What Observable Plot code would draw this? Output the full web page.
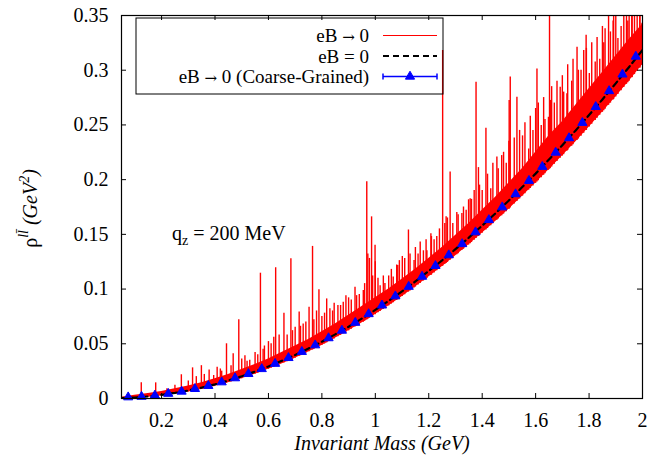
<!DOCTYPE html>
<html>
<head>
<meta charset="utf-8">
<script src="https://cdn.jsdelivr.net/npm/d3@7"></script>
<script src="https://cdn.jsdelivr.net/npm/@observablehq/plot@0.6"></script>
<style>
  html, body { margin: 0; padding: 0; background: #fff; }
</style>
</head>
<body>
<div id="chart"></div>
<script>
// ---- data ----
const massGrid = [0.05,0.10,0.15,0.20,0.25,0.30,0.35,0.40,0.45,0.50,0.55,0.60,0.65,0.70,0.75,0.80,0.85,0.90,0.95,1.00,
                  1.05,1.10,1.15,1.20,1.25,1.30,1.35,1.40,1.45,1.50,1.55,1.60,1.65,1.70,1.75,1.80,1.85,1.90,1.95,2.00];
// eB = 0 (dashed black)
const rhoB0 = [0.0003,0.0009,0.0019,0.0033,0.0051,0.0073,0.0099,0.0129,0.0164,0.0203,0.0246,0.0293,0.0344,0.0398,0.0457,0.0519,0.0586,0.0656,0.0731,0.0810,
               0.0892,0.0979,0.1070,0.1165,0.1262,0.1365,0.1470,0.1580,0.1693,0.1810,0.1932,0.2055,0.2184,0.2315,0.2450,0.2590,0.2733,0.2880,0.3030,0.3185];
// eB -> 0 : dense red band (lower / upper envelope)
const redLow = [0.0000,0.0003,0.0011,0.0023,0.0039,0.0059,0.0083,0.0111,0.0144,0.0181,0.0222,0.0267,0.0316,0.0368,0.0425,0.0485,0.0550,0.0618,0.0690,0.0767,
                0.0846,0.0930,0.1018,0.1110,0.1204,0.1303,0.1404,0.1510,0.1618,0.1730,0.1847,0.1966,0.2090,0.2215,0.2344,0.2478,0.2615,0.2755,0.2900,0.3050];
const redHigh = [0.0012,0.0030,0.0045,0.0065,0.0090,0.0115,0.0145,0.0180,0.0220,0.0265,0.0310,0.0360,0.0420,0.0480,0.0540,0.0610,0.0680,0.0760,0.0840,0.0920,
                 0.1000,0.1090,0.1180,0.1280,0.1380,0.1490,0.1600,0.1720,0.1840,0.1970,0.2100,0.2250,0.2400,0.2530,0.2680,0.2830,0.2980,0.3130,0.3280,0.3420];
// eB -> 0 : individual spikes (mass, peak value)
const spikeMass = [0.124,0.178,0.22,0.25,0.274,0.30,0.316,0.349,0.36,0.378,0.395,0.408,0.425,0.443,0.468,0.489,0.50,0.512,0.53,0.55,
                   0.570,0.585,0.60,0.627,0.64,0.658,0.684,0.70,0.715,0.73,0.752,0.765,0.789,0.80,0.818,0.83,0.846,0.87,0.890,0.91,
                   0.924,0.94,0.955,0.968,0.972,0.978,0.986,0.999,1.018,1.036,1.05,1.067,1.084,1.101,1.124,1.145,1.168,1.18,1.193,1.208,
                   1.23,1.252,1.265,1.280,1.29,1.305,1.324,1.349,1.355,1.377,1.386,1.40,1.414,1.432,1.455,1.473,1.49,1.501,1.505,1.530,
                   1.551,1.574,1.59,1.605,1.621,1.635,1.648,1.652,1.655,1.67,1.692,1.705,1.717,1.735,1.755,1.77,1.789,1.801,1.823,1.84,
                   1.855,1.873,1.88,1.892,1.908,1.92,1.930,1.945,1.961,1.97,1.980,1.99,1.998,
                   0.33,0.42,0.46,0.52,0.56,0.58,0.61,0.62,0.67,0.69,0.72,0.74,0.77,0.78,0.81,0.84,0.86,0.88,0.90,0.93,
                   0.96,0.99,1.00,1.01,1.03,1.06,1.08,1.09,1.11,1.13,1.15,1.16,1.19,1.21,1.22,1.24,1.26,1.27,1.31,1.33,
                   1.34,1.36,1.37,1.39,1.42,1.44,1.46,1.48,1.50,1.52,1.54,1.56,1.58,1.60,1.61,1.63,1.66,1.68,1.70,1.72,
                   1.74,1.76,1.78,1.79,1.81,1.83,1.85,1.86,1.89,1.90,1.94,1.95,1.96,1.99];
const spikeTop = [0.0143,0.0143,0.009,0.012,0.0217,0.016,0.028,0.030,0.022,0.026,0.021,0.0286,0.025,0.050,0.041,0.072,0.036,0.039,0.035,0.042,
                  0.1145,0.048,0.052,0.1195,0.058,0.078,0.1277,0.065,0.079,0.068,0.0835,0.139,0.0994,0.075,0.091,0.082,0.087,0.085,0.094,0.090,
                  0.1017,0.095,0.0987,0.198,0.132,0.128,0.166,0.140,0.103,0.105,0.112,0.111,0.1216,0.1298,0.154,0.126,0.143,0.135,0.135,0.1505,
                  0.148,0.318,0.166,0.207,0.160,0.170,0.169,0.1816,0.1825,0.289,0.211,0.190,0.247,0.1917,0.2206,0.222,0.215,0.2724,0.2937,0.2754,
                  0.240,0.228,0.245,0.301,0.2495,0.255,0.257,0.37,0.2724,0.270,0.2845,0.280,0.2785,0.290,0.321,0.300,0.332,0.297,0.3075,0.310,
                  0.325,0.37,0.335,0.37,0.329,0.340,0.37,0.345,0.37,0.350,0.37,0.360,0.343,
                  0.020,0.027,0.030,0.034,0.040,0.045,0.050,0.056,0.058,0.062,0.066,0.070,0.072,0.080,0.078,0.080,0.085,0.088,0.092,0.094,
                  0.105,0.112,0.125,0.110,0.112,0.118,0.122,0.126,0.128,0.132,0.138,0.132,0.145,0.148,0.145,0.155,0.160,0.165,0.168,0.175,
                  0.172,0.182,0.190,0.195,0.205,0.215,0.210,0.225,0.235,0.238,0.245,0.252,0.258,0.265,0.270,0.275,0.285,0.290,0.295,0.305,
                  0.310,0.300,0.318,0.320,0.325,0.330,0.340,0.338,0.345,0.350,0.37,0.360,0.355,0.37];
// eB -> 0 (coarse-grained), blue triangles
const coarseMass = [0.075,0.125,0.175,0.225,0.275,0.325,0.375,0.425,0.475,0.525,0.575,0.625,0.675,0.725,0.775,0.825,0.875,0.925,0.975,
                    1.025,1.075,1.125,1.175,1.225,1.275,1.325,1.375,1.425,1.475,1.525,1.575,1.625,1.675,1.725,1.775,1.825,1.875,1.925,1.975];
const coarseRho = [0.0012,0.0017,0.0028,0.0044,0.0064,0.0088,0.0116,0.0149,0.0186,0.0225,0.0270,0.0318,0.0371,0.0427,0.0487,0.0552,0.0621,0.0693,0.0772,
                   0.0851,0.0935,0.1022,0.1114,0.1212,0.1310,0.1412,0.1520,0.1632,0.1748,0.1868,0.1990,0.2118,0.2248,0.2380,0.2520,0.2665,0.2810,0.2962,0.3125];
const xTicks = [0.2,0.4,0.6,0.8,1,1.2,1.4,1.6,1.8,2];
const yTicks = [0,0.05,0.1,0.15,0.2,0.25,0.3,0.35];
const legendParts = [["eB ", "0"], ["eB = 0", null], ["eB ", "0 (Coarse-Grained)"]];

// ---- tables built from the arrays ----
const curve = massGrid.map((m, i) => ({m, v: rhoB0[i]}));
const band = massGrid.map((m, i) => ({m, lo: redLow[i], hi: redHigh[i]}));
const lowAt = d3.scaleLinear().domain(massGrid).range(redLow);
const spikes = spikeMass.map((m, i) => ({m, base: lowAt(m), top: spikeTop[i]})).sort((a, b) => a.m - b.m);
const coarse = coarseMass.map((m, i) => ({m, v: coarseRho[i]}));

const W = 649, H = 464, mL = 121, mR = 7, mT = 15, mB = 66;
const fw = W - mL - mR, fh = H - mT - mB, tk = 5;
const FONT = "'Liberation Serif', 'Times New Roman', serif";

const svg = Plot.plot({
  width: W, height: H,
  marginLeft: mL, marginRight: mR, marginTop: mT, marginBottom: mB,
  style: {fontFamily: FONT, fontSize: "20px", background: "white", color: "black"},
  x: {domain: [0.05, 2]},
  y: {domain: [0, 0.35]},
  marks: [
    Plot.areaY(band, {x: "m", y1: "lo", y2: "hi", fill: "#ff0000", clip: true}),
    Plot.ruleX(spikes, {x: "m", y1: "base", y2: "top", stroke: "#ff0000", strokeWidth: 1.4, clip: true}),
    Plot.line(curve, {x: "m", y: "v", stroke: "black", strokeWidth: 2.2, strokeDasharray: "6,4", clip: true}),
    Plot.dot(coarse, {x: "m", y: "v", symbol: "triangle", r: 3.4, fill: "#0000ff", stroke: "#0000ff", strokeWidth: 1}),
    Plot.frame({stroke: "black", strokeWidth: 1.2}),
    Plot.tickX(xTicks, {x: d => d, insetTop: fh - tk, stroke: "black"}),
    Plot.tickX(xTicks, {x: d => d, insetBottom: fh - tk, stroke: "black"}),
    Plot.tickY(yTicks, {y: d => d, insetRight: fw - tk, stroke: "black"}),
    Plot.tickY(yTicks, {y: d => d, insetLeft: fw - tk, stroke: "black"}),
    Plot.axisX(xTicks, {tickSize: 0, tickPadding: 14, tickFormat: d => String(d), label: null, fontSize: 20}),
    Plot.axisY(yTicks, {tickSize: 0, tickPadding: 13, tickFormat: d => String(d), label: null, fontSize: 20}),
    Plot.text(["Invariant Mass (GeV)"], {frameAnchor: "bottom", dy: 51, fontStyle: "italic", fontSize: 20})
  ]
});

const s = d3.select(svg);
// y-axis label with superscripts
const yl = s.append("text")
  .attr("transform", `translate(37,${mT + fh / 2 + 2}) rotate(-90)`)
  .attr("text-anchor", "middle")
  .attr("font-family", FONT).attr("font-size", 20).attr("fill", "black");
yl.append("tspan").text("\u03C1");
yl.append("tspan").attr("dy", -9).attr("font-size", 14).attr("font-style", "italic").text("ll\u0304");
yl.append("tspan").attr("dy", 9).attr("font-style", "italic").text(" (GeV");
yl.append("tspan").attr("dy", -8).attr("font-size", 14).attr("font-style", "italic").text("2");
yl.append("tspan").attr("dy", 8).attr("font-style", "italic").text(")");

// annotation q_z = 200 MeV
const qa = s.append("text").attr("x", 172).attr("y", 240).attr("text-anchor", "start")
  .attr("font-family", FONT).attr("font-size", 20).attr("fill", "black");
qa.append("tspan").text("q");
qa.append("tspan").attr("dy", 5).attr("font-size", 14).text("z");
qa.append("tspan").attr("dy", -5).text(" = 200 MeV");

// legend box
const lg = s.append("g");
lg.append("rect").attr("x", 136).attr("y", 18).attr("width", 307).attr("height", 76)
  .attr("fill", "none").attr("stroke", "black").attr("stroke-width", 1);
const rowY = [35.5, 56, 76.5];
legendParts.forEach(([a, b], i) => {
  const t = lg.append("text").attr("x", 369).attr("y", rowY[i] + 6.5).attr("text-anchor", "end")
    .attr("font-family", FONT).attr("font-size", 19).attr("fill", "black");
  t.append("tspan").text(a);
  if (b !== null) {
    t.append("tspan").attr("font-family", "'DejaVu Serif', serif").attr("font-size", 15).text("\u2192");
    t.append("tspan").text(" " + b);
  }
});
lg.append("line").attr("x1", 383).attr("x2", 437).attr("y1", rowY[0]).attr("y2", rowY[0])
  .attr("stroke", "#ff0000").attr("stroke-width", 1);
lg.append("line").attr("x1", 383).attr("x2", 437).attr("y1", rowY[1]).attr("y2", rowY[1])
  .attr("stroke", "black").attr("stroke-width", 2.2).attr("stroke-dasharray", "6,4");
lg.append("line").attr("x1", 383).attr("x2", 437).attr("y1", rowY[2]).attr("y2", rowY[2])
  .attr("stroke", "#0000ff").attr("stroke-width", 1.5);
[383, 437].forEach(x => lg.append("line").attr("x1", x).attr("x2", x)
  .attr("y1", rowY[2] - 3).attr("y2", rowY[2] + 3).attr("stroke", "#0000ff").attr("stroke-width", 1.5));
lg.append("path").attr("transform", `translate(410,${rowY[2]})`)
  .attr("d", d3.symbol(d3.symbolTriangle, 3.4 * 3.4 * Math.PI)())
  .attr("fill", "#0000ff").attr("stroke", "#0000ff");

document.getElementById("chart").appendChild(svg);
</script>
</body>
</html>
